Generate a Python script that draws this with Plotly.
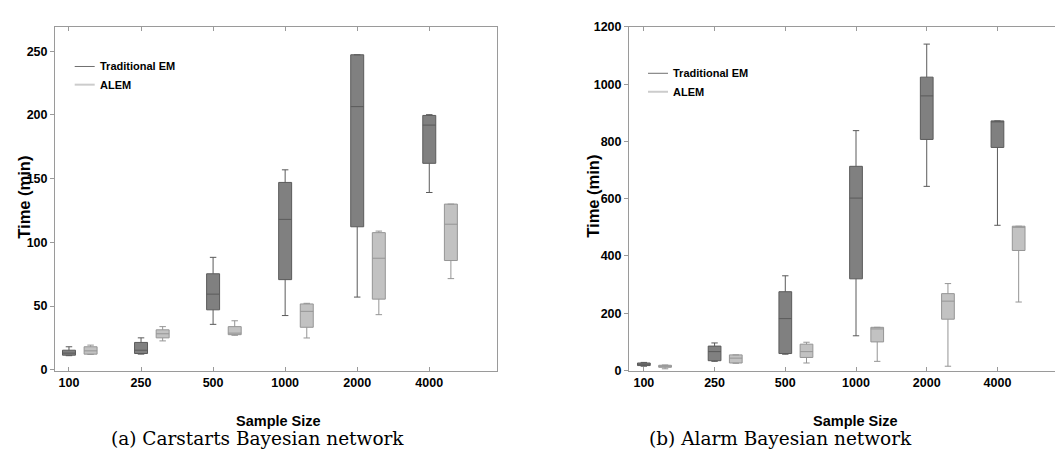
import plotly.graph_objects as go

sample_sizes = ["100", "250", "500", "1000", "2000", "4000"]

# Carstarts (a)
car_em_q1 = [11.4, 12.7, 47.0, 70.7, 112.2, 162.0]
car_em_med = [13.0, 15.3, 59.3, 118.0, 206.5, 192.0]
car_em_q3 = [15.3, 21.4, 75.3, 147.0, 247.2, 199.6]
car_em_lo = [11.0, 12.2, 35.6, 42.5, 57.0, 139.1]
car_em_hi = [18.0, 25.0, 88.2, 156.9, 247.2, 200.2]

car_al_q1 = [12.2, 25.0, 27.5, 33.3, 55.4, 85.7]
car_al_med = [14.8, 28.2, 28.7, 45.8, 87.5, 114.2]
car_al_q3 = [18.0, 31.3, 33.8, 51.6, 107.6, 130.0]
car_al_lo = [12.0, 22.6, 27.0, 24.9, 43.2, 71.5]
car_al_hi = [19.3, 33.8, 38.4, 52.1, 108.8, 130.0]

# Alarm (b)
al_em_q1 = [17.0, 34.0, 59.0, 320.0, 807.0, 779.0]
al_em_med = [21.5, 65.7, 181.0, 602.0, 959.0, 871.7]
al_em_q3 = [26.0, 85.0, 275.0, 713.0, 1024.5, 871.7]
al_em_lo = [14.7, 31.7, 56.6, 121.0, 643.0, 507.0]
al_em_hi = [28.0, 96.0, 330.6, 837.7, 1140.0, 871.7]

al_al_q1 = [11.0, 26.0, 45.3, 99.6, 179.0, 419.0]
al_al_med = [14.7, 43.0, 65.7, 145.0, 242.0, 500.0]
al_al_q3 = [18.0, 54.3, 91.7, 150.6, 268.3, 503.8]
al_al_lo = [5.7, 25.0, 26.0, 31.7, 14.7, 239.0]
al_al_hi = [19.0, 54.3, 98.5, 150.6, 303.4, 503.8]

series_names = ["Traditional EM", "ALEM"]

W, H = 1063, 464
EM_FILL, EM_LINE = "#808080", "#5a5a5a"
AL_FILL, AL_LINE = "#c2c2c2", "#959595"
AXC = "#9a9a9a"
FONT = "Liberation Sans"

fig = go.Figure()
idx = list(range(len(sample_sizes)))
off = 0.3


def add_boxes(q1, med, q3, lo, hi, xs, fill, line, xa, ya, name):
    fig.add_trace(go.Box(
        x=xs, q1=q1, median=med, q3=q3, lowerfence=lo, upperfence=hi,
        width=0.18, whiskerwidth=0.5, fillcolor=fill,
        line=dict(color=line, width=1), boxpoints=False,
        xaxis=xa, yaxis=ya, name=name, showlegend=False, hoverinfo="skip"))


add_boxes(car_em_q1, car_em_med, car_em_q3, car_em_lo, car_em_hi, idx, EM_FILL, EM_LINE, "x", "y", series_names[0])
add_boxes(car_al_q1, car_al_med, car_al_q3, car_al_lo, car_al_hi, [i + off for i in idx], AL_FILL, AL_LINE, "x", "y", series_names[1])
add_boxes(al_em_q1, al_em_med, al_em_q3, al_em_lo, al_em_hi, idx, EM_FILL, EM_LINE, "x2", "y2", series_names[0])
add_boxes(al_al_q1, al_al_med, al_al_q3, al_al_lo, al_al_hi, [i + off for i in idx], AL_FILL, AL_LINE, "x2", "y2", series_names[1])

ydom = [1 - 367 / H, 1 - 13 / H]
tickfont = dict(family=FONT, size=12.5, color="black", weight="bold")

common_x = dict(tickmode="array", tickvals=idx, ticktext=sample_sizes, showline=True,
                linecolor=AXC, linewidth=1, ticks="inside", ticklen=4, tickcolor=AXC,
                mirror="ticks", showgrid=False, zeroline=False, tickfont=tickfont)
common_y = dict(showline=True, linecolor=AXC, linewidth=1, ticks="outside", ticklen=4,
                tickcolor=AXC, showgrid=False, zeroline=False, tickfont=tickfont)

fig.update_layout(
    width=W, height=H, margin=dict(l=0, r=0, t=0, b=0),
    plot_bgcolor="white", paper_bgcolor="white", showlegend=False,
    xaxis=dict(domain=[47 / W, 489 / W], range=[-0.194, 5.94], anchor="y", **common_x),
    yaxis=dict(domain=ydom, range=[-0.8, 269.3], tickvals=[0, 50, 100, 150, 200, 250],
               anchor="x", mirror=True, **common_y),
    xaxis2=dict(domain=[621 / W, 1.0], range=[-0.21, 6.04], anchor="y2", **common_x),
    yaxis2=dict(domain=ydom, range=[-1, 1201], tickvals=[0, 200, 400, 600, 800, 1000, 1200],
                anchor="x2", mirror=False, **common_y),
)

anns = []
shapes = []


def px_x(v):
    return v / W


def px_y(v):
    return 1 - v / H


# axis titles
for cx, cy in [(16, 189), (585, 188)]:
    anns.append(dict(text="<b>Time (min)</b>", x=px_x(cx), y=px_y(cy), xref="paper", yref="paper",
                     showarrow=False, textangle=-90, font=dict(family=FONT, size=16.5, color="black"),
                     xanchor="center", yanchor="middle"))
for cx in [270, 847]:
    anns.append(dict(text="<b>Sample Size</b>", x=px_x(cx), y=px_y(419), xref="paper", yref="paper",
                     showarrow=False, font=dict(family=FONT, size=14.5, color="black"),
                     xanchor="center", yanchor="middle"))

# captions
for cx, txt in [(249, "(a) Carstarts Bayesian network"), (772.5, "(b) Alarm Bayesian network")]:
    anns.append(dict(text=txt, x=px_x(cx), y=px_y(437), xref="paper", yref="paper",
                     showarrow=False, font=dict(family="DejaVu Serif", size=18.5, color="black"),
                     xanchor="center", yanchor="middle"))

# legends
for (lx0, ly0, ly1) in [(66.7, 54, 72.7), (640, 61, 80)]:
    for yy, col, wd, nm in [(ly0, "#707070", 1, series_names[0]), (ly1, "#cccccc", 2, series_names[1])]:
        shapes.append(dict(type="line", xref="paper", yref="paper", x0=px_x(lx0), x1=px_x(lx0 + 20),
                           y0=px_y(yy), y1=px_y(yy), line=dict(color=col, width=wd)))
        anns.append(dict(text="<b>%s</b>" % nm, x=px_x(lx0 + 23), y=px_y(yy), xref="paper", yref="paper",
                         showarrow=False, font=dict(family=FONT, size=11, color="black"),
                         xanchor="left", yanchor="middle"))

fig.update_layout(annotations=anns, shapes=shapes)
fig.write_html("out.html")
